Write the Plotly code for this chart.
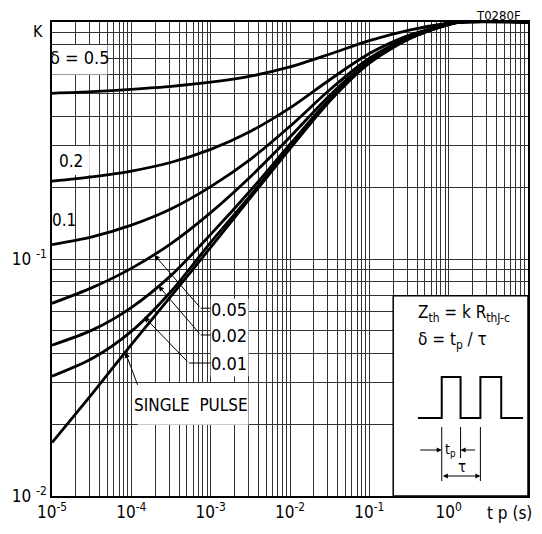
import math
import plotly.graph_objects as go

# ---------------- data ----------------
tp = [1e-5, 3.2e-5, 1e-4, 3.2e-4, 1e-3, 3.2e-3, 1e-2, 3.2e-2, 0.1, 0.32, 1.0, 1.4, 10.0]

k_d05 = [0.500, 0.508, 0.520, 0.535, 0.557, 0.591, 0.646, 0.733, 0.835, 0.925, 0.990, 1.0, 1.0]
k_d02 = [0.213, 0.222, 0.235, 0.256, 0.290, 0.346, 0.434, 0.572, 0.736, 0.880, 0.985, 1.0, 1.0]
k_d01 = [0.115, 0.124, 0.139, 0.163, 0.202, 0.264, 0.363, 0.519, 0.703, 0.865, 0.980, 1.0, 1.0]
k_d005 = [0.065, 0.0757, 0.0913, 0.1165, 0.157, 0.223, 0.327, 0.492, 0.687, 0.858, 0.978, 1.0, 1.0]
k_d002 = [0.0433, 0.0501, 0.0624, 0.0855, 0.127, 0.195, 0.305, 0.476, 0.677, 0.853, 0.977, 1.0, 1.0]
k_d001 = [0.032, 0.038, 0.0495, 0.0733, 0.1175, 0.186, 0.2965, 0.470, 0.673, 0.852, 0.977, 1.0, 1.0]
k_single = [0.0168, 0.027, 0.0435, 0.070, 0.112, 0.182, 0.292, 0.465, 0.670, 0.850, 0.975, 1.0, 1.0]

x_decades = [-5, -4, -3, -2, -1, 0]
x_decade_labels = ["10<sup>-5</sup>", "10<sup>-4</sup>", "10<sup>-3</sup>",
                   "10<sup>-2</sup>", "10<sup>-1</sup>", "10<sup>0</sup>"]
y_decades = [-2, -1]
y_decade_labels = ["10 <sup>-2</sup>", "10 <sup>-1</sup>"]

# ---------------- layout helpers ----------------
# page has an 8px body margin: figure is placed at (8, 8) in the window
OFF = 8
W, H = 542 - 2 * OFF, 534 - 2 * OFF
PL, PT, PR, PB = 50, 22, 530, 496          # plot area in window pixels
ML, MT = PL - OFF, PT - OFF
PW, PH = PR - PL, PB - PT
MR = W - ML - PW
MB = H - MT - PH
FONT = "Liberation Sans Narrow, DejaVu Sans Condensed, Roboto Condensed, Arial Narrow, Liberation Sans, sans-serif"


def px(x):
    return (x - PL) / PW


def py(y):
    return (PB - y) / PH


# tick/grid positions
xt, xtt = [], []
for e in range(-5, 1):
    for m in range(1, 10):
        xt.append(m * 10.0 ** e)
        xtt.append(x_decade_labels[x_decades.index(e)] if m == 1 else "")
xt.append(10.0)
xtt.append("")

yt, ytt = [], []
for e in range(-2, 0):
    for m in range(1, 10):
        yt.append(m * 10.0 ** e)
        ytt.append(y_decade_labels[y_decades.index(e)] if m == 1 else "")
yt.append(1.0)
ytt.append("")

fig = go.Figure()


def box(x0, x1, y0, y1, border=False):
    fig.add_trace(go.Scatter(
        x=[x0, x1, x1, x0, x0], y=[y0, y0, y1, y1, y0], mode="lines",
        fill="toself", fillcolor="white",
        line=dict(color="black" if border else "white", width=1.5 if border else 0),
        hoverinfo="skip", showlegend=False))


# white label boxes hiding the grid
box(1e-5, 5e-5, 0.6, 0.8)
box(1e-5, 3e-5, 0.226, 0.3)
box(1e-3, 3e-3, 0.032, 0.068)
box(1.2e-4, 3e-3, 0.02, 0.03)
box(0.2, 10.0, 0.01, 0.07, border=True)

for k in [k_d05, k_d02, k_d01, k_d005, k_d002, k_d001, k_single]:
    fig.add_trace(go.Scatter(x=tp, y=k, mode="lines",
                             line=dict(color="black", width=2.8, shape="spline", smoothing=0.8),
                             hoverinfo="skip", showlegend=False))

ann = []


def text(x, y, s, size=16, anchor="center"):
    ann.append(dict(x=px(x), y=py(y), xref="paper", yref="paper", text=s, showarrow=False,
                    xanchor=anchor, yanchor="middle", font=dict(family=FONT, size=size, color="black")))


text(78, 58, "δ = 0.5", 18)
text(69, 161, "0.2", 17)
text(62, 220, "0.1", 17)
text(228, 309, "0.05", 18)
text(228, 335, "0.02", 18)
text(228, 363, "0.01", 18)
text(190, 405, "SINGLE  PULSE", 17)
text(36, 32, "K", 16)
text(511, 513, "t p (s)", 17)
text(500, 15, "T0280F", 13)
text(417, 313, "Z<sub>th</sub> = k R<sub>thJ-c</sub>", 17, "left")
text(417, 340, "δ = t<sub>p</sub> / τ", 17, "left")
text(452, 450, "t<sub>p</sub>", 14)
text(463, 467, "τ", 15)

# leader arrows (data coords, log10 for annotations)
leaders = [  # tip (tp, K), bend (tp, K)
    ((1.95e-4, 0.104), (7.5e-4, 0.062)),
    ((2.2e-4, 0.077), (7.5e-4, 0.0478)),
    ((1.45e-4, 0.057), (5.3e-4, 0.0364)),
    ((8.4e-5, 0.0404), (1.22e-4, 0.029)),
]
for (tx, ty), (bx, by) in leaders:
    ann.append(dict(x=math.log10(tx), y=math.log10(ty), ax=math.log10(bx), ay=math.log10(by),
                    xref="x", yref="y", axref="x", ayref="y", text="", showarrow=True,
                    arrowhead=2, arrowsize=1.1, arrowwidth=1, arrowcolor="black"))

shapes = []
for (tx, ty), (bx, by) in leaders[:3]:
    shapes.append(dict(type="line", x0=bx, x1=1e-3, y0=by, y1=by, xref="x", yref="y",
                       line=dict(color="black", width=1)))

# pulse waveform in the inset box
wave = [(419, 418), (443, 418), (443, 377), (462, 377), (462, 418), (482, 418),
        (482, 377), (503, 377), (503, 418), (525, 418)]
path = "M " + " L ".join(f"{px(a):.5f} {py(b):.5f}" for a, b in wave)
shapes.append(dict(type="path", path=path, xref="paper", yref="paper",
                   line=dict(color="black", width=2)))
for xx, y0, y1 in [(443, 427, 481), (462, 427, 458), (482, 427, 481)]:
    shapes.append(dict(type="line", x0=px(xx), x1=px(xx), y0=py(y0), y1=py(y1),
                       xref="paper", yref="paper", line=dict(color="black", width=1)))


def arrow(x, y, dx, dy, both=False):
    ann.append(dict(x=px(x), y=py(y), xref="paper", yref="paper", ax=dx, ay=dy, text="",
                    showarrow=True, arrowhead=2, startarrowhead=2, arrowsize=1, arrowwidth=1,
                    arrowside="end+start" if both else "end", arrowcolor="black"))


arrow(443, 450, -23, 0)
arrow(462, 450, 16, 0)
arrow(482, 476, -39, 0, both=True)

axis_common = dict(type="log", showline=True, mirror=True, linecolor="black", linewidth=1.5,
                   showgrid=True, gridcolor="#333333", gridwidth=1, ticks="", zeroline=False,
                   tickfont=dict(family=FONT, size=17, color="black"))

fig.update_layout(
    width=W, height=H, margin=dict(l=ML, r=MR, t=MT, b=MB, pad=0),
    paper_bgcolor="white", plot_bgcolor="white",
    xaxis=dict(range=[-5, 1], tickmode="array", tickvals=xt, ticktext=xtt, **axis_common),
    yaxis=dict(range=[-2, 0], tickmode="array", tickvals=yt, ticktext=ytt, **axis_common),
    annotations=ann, shapes=shapes, showlegend=False,
)

fig.write_html("out.html")
